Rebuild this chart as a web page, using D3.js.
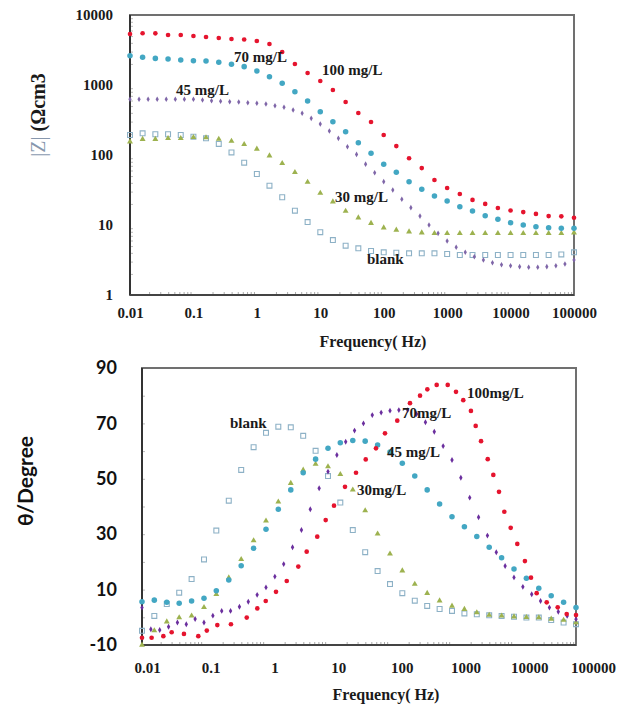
<!DOCTYPE html>
<html>
<head>
<meta charset="utf-8">
<script src="https://cdn.jsdelivr.net/npm/d3@7"></script>
<style>
  body { margin: 0; background: #fff; }
  svg text { font-family: "Liberation Serif", "Times New Roman", serif; fill: #1a1a1a; }
</style>
</head>
<body>
<svg id="chart" width="628" height="706"></svg>
<script>
/*
Bode plots: |Z| and phase angle vs frequency for blank and inhibitor concentrations
*/

// frequency grids (Hz)
var freq5 = [0.01, 0.0158, 0.0251, 0.0398, 0.0631, 0.1, 0.158, 0.251, 0.398, 0.631,
  1, 1.58, 2.51, 3.98, 6.31, 10, 15.8, 25.1, 39.8, 63.1,
  100, 158, 251, 398, 631, 1000, 1585, 2512, 3981, 6310,
  10000, 15849, 25119, 39811, 63096, 100000];
var freq7 = [0.01, 0.01389, 0.01931, 0.02683, 0.03728, 0.0518, 0.07197, 0.1, 0.139, 0.193,
  0.268, 0.373, 0.518, 0.72, 1, 1.39, 1.93, 2.68, 3.73, 5.18,
  7.2, 10, 13.9, 19.3, 26.8, 37.3, 51.8, 72, 100, 139,
  193, 268, 373, 518, 720, 1000, 1389, 1931, 2683, 3728,
  5180, 7197, 10000, 13895, 19307, 26827, 37276, 51795, 71969, 100000];

// |Z| values (ohm cm2)
var zBlank = [193, 204, 198, 198, 193, 183, 173, 144, 109, 77.6, 53.5, 36.4, 24.9, 16, 11, 7.9, 6.1, 5.06, 4.65, 4.25,
  4.07, 4.02, 3.94, 3.94, 3.94, 3.85, 3.73, 3.73, 3.73, 3.73, 3.73, 3.73, 3.73, 3.73, 3.8, 4.07];
var z30 = [155, 168, 168, 173, 173, 179, 177, 169, 158, 142, 122, 97.7, 76, 56.6, 41.1, 28.6, 21.5, 15.8, 12.7, 10.6,
  9.15, 8.48, 8.02, 7.76, 7.6, 7.6, 7.6, 7.6, 7.6, 7.6, 7.6, 7.6, 7.6, 7.6, 7.6, 7.76];
var z45 = [625, 625, 625, 625, 625, 625, 625, 625, 611, 597, 585, 577, 572, 559, 548, 535, 506, 480, 440, 394,
  334, 277, 220, 173, 131, 102, 74, 55.8, 41.6, 31.6, 23.3, 17.7, 13.4, 10, 7.6, 5.9, 4.8, 4.07, 3.52, 3.16,
  2.89, 2.71, 2.62, 2.54, 2.49, 2.49, 2.54, 2.62, 2.77, 3.16];
var z70 = [2620, 2490, 2400, 2350, 2275, 2220, 2200, 2110, 1977, 1830, 1585, 1315, 1057, 802, 591, 415, 299, 215, 150, 106,
  74, 56.6, 41.6, 32.4, 26, 22, 18.2, 15.8, 13.6, 12.1, 10.8, 10, 9.46, 9.15, 8.97, 8.97];
var z100 = [5350, 5480, 5470, 5180, 5180, 5010, 4850, 4690, 4540, 4470, 4250, 3850, 2960, 1995, 1485, 1140, 849, 572, 398, 296,
  193, 134, 90, 65, 44, 33.8, 27.7, 22.8, 20, 17.5, 16.1, 15.3, 14.4, 13.4, 13.3, 12.7];

// phase angle values (degree)
var phBlank = [-4.9, 0.5, 4.8, 8.9, 13.8, 20.9, 31.3, 42.1, 53.2, 61.4, 66.6, 68.8, 68.6, 65.5, 60.1, 51, 41.4, 31.5, 23.5, 16.7,
  12, 8.7, 6, 4.1, 3, 2.3, 1.4, 1.1, 0.7, 0.5, 0.2, -0.1, -0.1, -1, -1.9, -2.5];
var ph30 = [-10, -4.8, -1.6, -0.1, 0.5, 3.6, 8.3, 14.3, 20.9, 27.7, 34.8, 41.7, 48.4, 53.2, 55.3, 54.4, 51.6, 46, 38.5, 30.1,
  22.9, 16.8, 12, 8.7, 6, 4.1, 2.9, 1.7, 0.8, 0.5, 0.2, 0, -0.1, -0.6, -1, -1.9];
var ph45 = [5.6, 6.2, 5.4, 5.1, 5.9, 6.9, 9.6, 13.5, 18.6, 24.9, 31.8, 39, 46, 52.2, 57.1, 61, 63, 63.8, 63.6, 62.2,
  59.7, 55.6, 51, 46, 40.9, 36.3, 32.7, 29.2, 25.3, 21.5, 17.4, 14.1, 10.5, 7.8, 5.4, 3.5];
var ph70 = [3.5, -4.3, -4.6, -3.4, -1.9, -2.5, -0.6, -1.9, 0.6, 2.3, 2.3, 3.8, 5.6, 8.1, 10.8, 14.7, 19.2, 25.3, 31.5, 39,
  46.6, 52.6, 58.6, 63.4, 67.4, 70, 73, 73.9, 74.6, 74.8, 74.8, 73.4, 70.4, 67, 61.8, 56.8, 50.4, 43.2, 36.1, 29.5,
  23.5, 18.5, 14.4, 11, 8.3, 5.9, 3.5, 2, 0.5, -0.7];
var ph100Freq = [0.01, 0.0143, 0.0221, 0.0301, 0.0475, 0.0809, 0.111, 0.164, 0.272, 0.489, 0.724, 0.99, 1.45, 2.16, 3.32, 4.53,
  6.71, 9.18, 12.5, 18.8, 28.3, 40.6, 59.4, 83, 131, 210, 305, 400, 566, 853, 1160, 1520, 2020, 2410, 2940, 3770,
  4640, 5730, 6980, 8850, 11300, 15000, 18800, 23200, 33700, 50700, 70800, 100000];
var ph100 = [-7.4, -7.4, -6.8, -5.4, -6.0, -6.8, -4.8, -2.8, -2.5, -0.1, 3.2, 5.9, 9.2, 13.1, 18.3, 23.7, 29.1, 35.1, 40.3, 47.1,
  52.2, 57, 61, 66.4, 71, 77.3, 80, 82.3, 83.9, 83.9, 81.4, 78.4, 74.5, 69.1, 63.6, 57.1, 51.4, 45.3, 38.1, 32.3,
  26.5, 20.3, 14.3, 8.7, 5.4, 3.6, 1.2, 0.8];

var xTicks = [0.01, 0.1, 1, 10, 100, 1000, 10000, 100000];
var zTicks = [1, 10, 100, 1000, 10000];
var phTicks = [-10, 10, 30, 50, 70, 90];

var svg = d3.select("#chart");

var C = {
  red: "#e5142e", cyan: "#43a7c3", purpleTop: "#7f66a8", purpleBot: "#6b2f9e",
  green: "#9db24f", blank: "#8db1c6"
};

function tickFmt(d) { return String(d); }

function minorTicks(lo, hi) {
  var out = [];
  for (var e = Math.log10(lo); e < Math.log10(hi); e++) {
    for (var m = 2; m <= 9; m++) out.push(m * Math.pow(10, e));
  }
  return out;
}

function frame(g, x0, y0, x1, y1) {
  g.append("rect")
    .attr("x", x0).attr("y", y0)
    .attr("width", x1 - x0).attr("height", y1 - y0)
    .attr("fill", "none").attr("stroke", "#707070").attr("stroke-width", 2);
  g.append("line").attr("x1", x0).attr("x2", x0).attr("y1", y0).attr("y2", y1)
    .attr("stroke", "#333").attr("stroke-width", 2);
  g.append("line").attr("x1", x0).attr("x2", x1).attr("y1", y1).attr("y2", y1)
    .attr("stroke", "#444").attr("stroke-width", 2);
}

function drawSeries(g, xs, ys, xScale, yScale, sym, size, color, hollow) {
  g.selectAll(null)
    .data(ys.map(function(v, i) { return [xs[i], v]; }))
    .enter().append("path")
    .attr("transform", function(d) { return "translate(" + xScale(d[0]) + "," + yScale(d[1]) + ")"; })
    .attr("d", d3.symbol().type(sym).size(size))
    .attr("fill", hollow ? "none" : color)
    .attr("stroke", hollow ? color : "none")
    .attr("stroke-width", 1.1);
}

function label(g, txt, x, y) {
  g.append("text").attr("x", x).attr("y", y)
    .style("font-size", "15px")
    .style("font-weight", "bold")
    .text(txt);
}

function styleTicks(a, size) {
  a.select(".domain").remove();
  a.selectAll("text").style("font-size", size + "px").style("font-family", "Liberation Serif")
    .style("font-weight", "bold").style("fill", "#1a1a1a");
}

// ---------- upper plot: |Z| ----------
var gTop = svg.append("g");
var xT = d3.scaleLog().domain([0.01, 100000]).range([130, 574]);
var yT = d3.scaleLog().domain([1, 10000]).range([295, 15]);

gTop.append("g").attr("transform", "translate(0,295)")
  .call(d3.axisBottom(xT).tickValues(minorTicks(0.01, 100000)).tickSize(-3).tickFormat(""))
  .call(function(a) { a.select(".domain").remove(); a.selectAll("line").attr("stroke", "#aaa"); });
gTop.append("g").attr("transform", "translate(130,0)")
  .call(d3.axisLeft(yT).tickValues(minorTicks(1, 10000)).tickSize(-3).tickFormat(""))
  .call(function(a) { a.select(".domain").remove(); a.selectAll("line").attr("stroke", "#bbb"); });

gTop.append("g").attr("transform", "translate(0,295)")
  .call(d3.axisBottom(xT).tickValues(xTicks).tickSize(0).tickPadding(12).tickFormat(tickFmt))
  .call(styleTicks, 15);
gTop.append("g").attr("transform", "translate(113,0)")
  .call(d3.axisLeft(yT).tickValues(zTicks).tickSize(0).tickPadding(0).tickFormat(tickFmt))
  .call(styleTicks, 15);

frame(gTop, 130, 15, 574, 295);

drawSeries(gTop, freq5, zBlank, xT, yT, d3.symbolSquare, 24, C.blank, true);
drawSeries(gTop, freq5, z30, xT, yT, d3.symbolTriangle, 15, C.green, false);
drawSeries(gTop, freq7, z45, xT, yT, d3.symbolDiamond, 9, C.purpleTop, false);
drawSeries(gTop, freq5, z70, xT, yT, d3.symbolCircle, 24, C.cyan, false);
drawSeries(gTop, freq5, z100, xT, yT, d3.symbolCircle, 17, C.red, false);

label(gTop, "70 mg/L", 234, 62);
label(gTop, "45 mg/L", 176, 95);
label(gTop, "100 mg/L", 322, 75);
label(gTop, "30 mg/L", 335, 202);
label(gTop, "blank", 367, 264);

gTop.append("text").attr("x", 373).attr("y", 347).attr("text-anchor", "middle")
  .style("font-size", "16px").style("font-weight", "bold").text("Frequency( Hz)");

var yl = gTop.append("text")
  .attr("transform", "translate(45,115) rotate(-90)")
  .attr("text-anchor", "middle")
  .style("font-size", "20px").style("font-weight", "bold");
yl.append("tspan").style("fill", "#8797ad").style("font-weight", "normal").text("|Z|");
yl.append("tspan").text(" (\u03A9cm3");

// ---------- lower plot: phase ----------
var gBot = svg.append("g");
var xB = d3.scaleLog().domain([0.01, 100000]).range([142, 576]);
var xBLab = d3.scaleLog().domain([0.01, 100000]).range([147, 593]);
var yB = d3.scaleLinear().domain([-10, 90]).range([645, 368]);

gBot.append("g").attr("transform", "translate(0,645)")
  .call(d3.axisBottom(xB).tickValues(minorTicks(0.01, 100000)).tickSize(-3).tickFormat(""))
  .call(function(a) { a.select(".domain").remove(); a.selectAll("line").attr("stroke", "#aaa"); });
gBot.append("g").attr("transform", "translate(142,0)")
  .call(d3.axisLeft(yB).tickValues(d3.range(-10, 91, 10)).tickSize(-3).tickFormat(""))
  .call(function(a) { a.select(".domain").remove(); a.selectAll("line").attr("stroke", "#bbb"); });

gBot.append("g").attr("transform", "translate(0,645)")
  .call(d3.axisBottom(xBLab).tickValues(xTicks).tickSize(0).tickPadding(17).tickFormat(tickFmt))
  .call(styleTicks, 15);
gBot.append("g").attr("transform", "translate(117,0)")
  .call(d3.axisLeft(yB).tickValues(phTicks).tickSize(0).tickPadding(0).tickFormat(tickFmt))
  .call(function(a) {
    a.select(".domain").remove();
    a.selectAll("text").style("font-size", "18px").style("font-family", "Lato, 'Liberation Sans', sans-serif")
      .style("font-weight", "bold").style("fill", "#111");
  });

frame(gBot, 142, 368, 576, 645);

drawSeries(gBot, freq5, phBlank, xB, yB, d3.symbolSquare, 24, C.blank, true);
drawSeries(gBot, freq5, ph30, xB, yB, d3.symbolTriangle, 15, C.green, false);
drawSeries(gBot, freq5, ph45, xB, yB, d3.symbolCircle, 24, C.cyan, false);
drawSeries(gBot, freq7, ph70, xB, yB, d3.symbolDiamond, 10, C.purpleBot, false);
drawSeries(gBot, ph100Freq, ph100, xB, yB, d3.symbolCircle, 17, C.red, false);

label(gBot, "blank", 230, 428);
label(gBot, "100mg/L", 467, 398);
label(gBot, "70mg/L", 402, 418);
label(gBot, "45 mg/L", 387, 457);
label(gBot, "30mg/L", 357, 495);

gBot.append("text").attr("x", 386).attr("y", 700).attr("text-anchor", "middle")
  .style("font-size", "16px").style("font-weight", "bold").text("Frequency( Hz)");

gBot.append("text")
  .attr("transform", "translate(33,481) rotate(-90)")
  .attr("text-anchor", "middle")
  .style("font-family", "Lato, 'Liberation Sans', sans-serif")
  .style("font-size", "21px").style("font-weight", "bold").style("fill", "#111")
  .text("\u03B8/Degree");
</script>
</body>
</html>
